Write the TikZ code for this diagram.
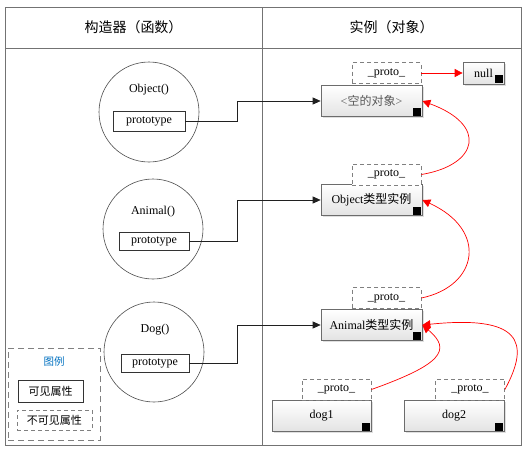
\documentclass[tikz,border=0pt]{standalone}
\usepackage{fontspec}
\setmainfont{Liberation Serif}
\newfontfamily\cjk{Noto Sans CJK SC}
\usetikzlibrary{arrows.meta,shadows}
\definecolor{legendblue}{RGB}{0,112,192}
\tikzset{
  frame/.style={draw=gray!90!black, line width=0.9pt},
  ctor/.style={circle, draw=gray!60!black, line width=0.6pt, minimum size=100pt, inner sep=0pt},
  pbox/.style={draw=gray!40!black, fill=white, line width=0.7pt, inner sep=0pt, minimum height=18pt},
  inst/.style={draw=gray!85!black, line width=0.7pt, top color=white, bottom color=gray!22,
    minimum width=101pt, minimum height=31pt, inner sep=0pt,
    drop shadow={shadow xshift=1.5pt, shadow yshift=-1.5pt, opacity=0.25},
    path picture={\fill[black] ([xshift=-9pt,yshift=1pt]path picture bounding box.south east)
      rectangle ([xshift=-1pt,yshift=9pt]path picture bounding box.south east);}},
  hid/.style={draw=gray, line width=0.8pt, dash pattern=on 4pt off 3pt, fill=white,
    minimum width=69pt, minimum height=21pt, inner sep=0pt},
  link/.style={-{Triangle[length=8pt,width=7pt]}, gray!25!black, line width=0.7pt},
  protolink/.style={-{Triangle[length=8pt,width=8pt]}, red, line width=0.7pt},
}
\begin{document}
\begin{tikzpicture}[x=1pt, y=-1pt, font=\fontsize{12}{14}\selectfont]
\useasboundingbox (0,0) rectangle (528,451);
% frame and header
\draw[frame] (5,7) rectangle (521,445);
\draw[frame] (5,48) -- (521,48);
\draw[frame] (262,7) -- (262,445);
\node[font=\cjk\fontsize{14}{16}\selectfont] (hl) at (133.5,27.5) {构造器（函数）};
\node[font=\cjk\fontsize{14}{16}\selectfont] (hr) at (391.5,27.5) {实例（对象）};
% constructors
\node[ctor] (oc) at (149,112) {};
\node (on) at (149,90) {Object()};
\node[pbox, minimum width=72pt, minimum height=20pt] (op) at (149,121) {prototype};
\node[ctor] (ac) at (153,229) {};
\node (an) at (153,212) {Animal()};
\node[pbox, minimum width=70pt] (ap) at (154,241) {prototype};
\node[ctor] (dc) at (154,352) {};
\node (dn) at (155,330) {Dog()};
\node[pbox, minimum width=68pt] (dp) at (155,363) {prototype};
% instances
\node[inst] (e0) at (371.5,101) {\color{gray!70!black}<{\cjk 空的对象}>};
\node[hid] (p0) at (386.5,73) {\_proto\_};
\node[inst, minimum width=41pt, minimum height=22pt] (nl) at (483.5,73) {null};
\node[inst] (e1) at (371.5,200) {Object{\cjk 类型实例}};
\node[hid] (p1) at (386.5,174.5) {\_proto\_};
\node[inst] (e2) at (371.5,325) {Animal{\cjk 类型实例}};
\node[hid] (p2) at (386.5,298) {\_proto\_};
\node[inst, minimum width=99pt] (d1) at (321.5,416) {dog1};
\node[hid] (q1) at (336.5,389.5) {\_proto\_};
\node[inst, minimum width=100pt] (d2) at (454,416) {dog2};
\node[hid] (q2) at (470,389.5) {\_proto\_};
% legend
\node[draw=gray, line width=0.8pt, dash pattern=on 6pt off 4pt, minimum width=92pt, minimum height=92pt] (lg) at (54,394) {};
\node[text=legendblue, font=\cjk\fontsize{10.5}{12}\selectfont] (lt) at (54,362) {图例};
\node[pbox, minimum width=65pt, minimum height=22pt, font=\cjk\fontsize{11}{13}\selectfont] (lv) at (50.5,391) {可见属性};
\node[hid, minimum width=75pt, minimum height=20pt, font=\cjk\fontsize{11}{13}\selectfont] (li) at (54.5,420) {不可见属性};
% prototype links
\coordinate (elbow) at (237,0);
\draw[link] (op.east) -- (op.east -| elbow) |- (e0.west);
\draw[link] (ap.east) -- (ap.east -| elbow) |- (e1.west);
\draw[link] (dp.east) -- (dp.east -| elbow) |- (e2.west);
% __proto__ chain
\draw[protolink] (p0.east) -- (nl.west);
\draw[protolink] (p1.east) .. controls +(57,-9.5) and +(66,24) .. (e0.east);
\draw[protolink] (p2.east) .. controls +(57,-12) and +(66,30) .. (e1.east);
\draw[protolink] (q1.east) .. controls +(70,-25) and +(30,25) .. (e2.east);
\draw[protolink] (q2.east) .. controls +(26,-48) and +(98,-10) .. (e2.east);
\end{tikzpicture}
\end{document}
